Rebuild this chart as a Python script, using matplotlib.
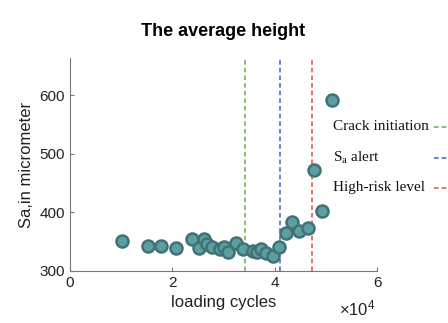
import matplotlib.pyplot as plt
from matplotlib.lines import Line2D

plt.rcParams['mathtext.fontset'] = 'custom'
plt.rcParams['mathtext.rm'] = 'Liberation Serif'
plt.rcParams['mathtext.sf'] = 'Liberation Sans'

# Data (loading cycles in units of 1e4, Sa in micrometer)
cycles = [1.01, 1.53, 1.78, 2.07, 2.39, 2.53, 2.62, 2.67, 2.77, 2.93, 3.01, 3.09, 3.24,
          3.37, 3.57, 3.66, 3.74, 3.83, 3.97, 4.09, 4.22, 4.34, 4.48, 4.64, 4.77, 4.93, 5.12]
height = [351, 343, 343, 339, 354, 340, 354, 346, 341, 337, 341, 333, 347,
          337, 334, 332, 337, 331, 325, 341, 364, 383, 368, 374, 473, 403, 592]
events = ['Crack initiation', r'S$_{\rm a}$ alert', 'High-risk level']
event_x = [3.42, 4.10, 4.73]
event_colors = ['#6aaa4f', '#3a62c4', '#d9533a']

fig = plt.figure(figsize=(4.48, 3.23), dpi=100)
ax = fig.add_axes([0.156, 0.161, 0.686, 0.659])

ax.scatter(cycles, height, s=75, color='#5f9ea0', edgecolor='#3f7276',
           linewidth=1.8, zorder=3)

for xv, c in zip(event_x, event_colors):
    ax.axvline(xv, color=c, linestyle=(0, (3, 2)), linewidth=1.1, zorder=2)

ax.set_xlim(0, 6)
ax.set_ylim(300, 663)
ax.set_xticks([0, 2, 4, 6])
ax.set_yticks([300, 400, 500, 600])
for s in ['top', 'right']:
    ax.spines[s].set_visible(False)
for s in ['left', 'bottom']:
    ax.spines[s].set_color('#777777')
    ax.spines[s].set_linewidth(0.8)
ax.tick_params(direction='in', length=3, colors='#777777', labelcolor='#222222',
               labelsize=11)
for t in ax.get_xticklabels() + ax.get_yticklabels():
    t.set_family('Liberation Sans')

ax.set_xlabel('loading cycles', fontsize=12, family='Liberation Sans', color='#222222')
ax.set_ylabel('Sa,in micrometer', fontsize=12, family='Liberation Sans', color='#222222')
ax.set_title('The average height', fontsize=13, fontweight='bold',
             family='Liberation Sans', pad=16)
fig.text(0.797, 0.012, r'$\mathsf{\times10^4}$', fontsize=12, ha='center',
         va='bottom', color='#222222')

# legend drawn by hand: left-aligned labels, dashed samples at the right edge
for i, (label, c) in enumerate(zip(events, event_colors)):
    yy = 1 - (127 + 30.5 * i) / 323
    fig.text(333 / 448, yy, label, family='Liberation Serif', fontsize=11,
             va='center', ha='left', color='#111111')
    fig.add_artist(Line2D([434 / 448, 1.0], [yy, yy], color=c,
                          linestyle=(0, (3, 2)), linewidth=1.1))

fig.savefig('out.png', dpi=100)
